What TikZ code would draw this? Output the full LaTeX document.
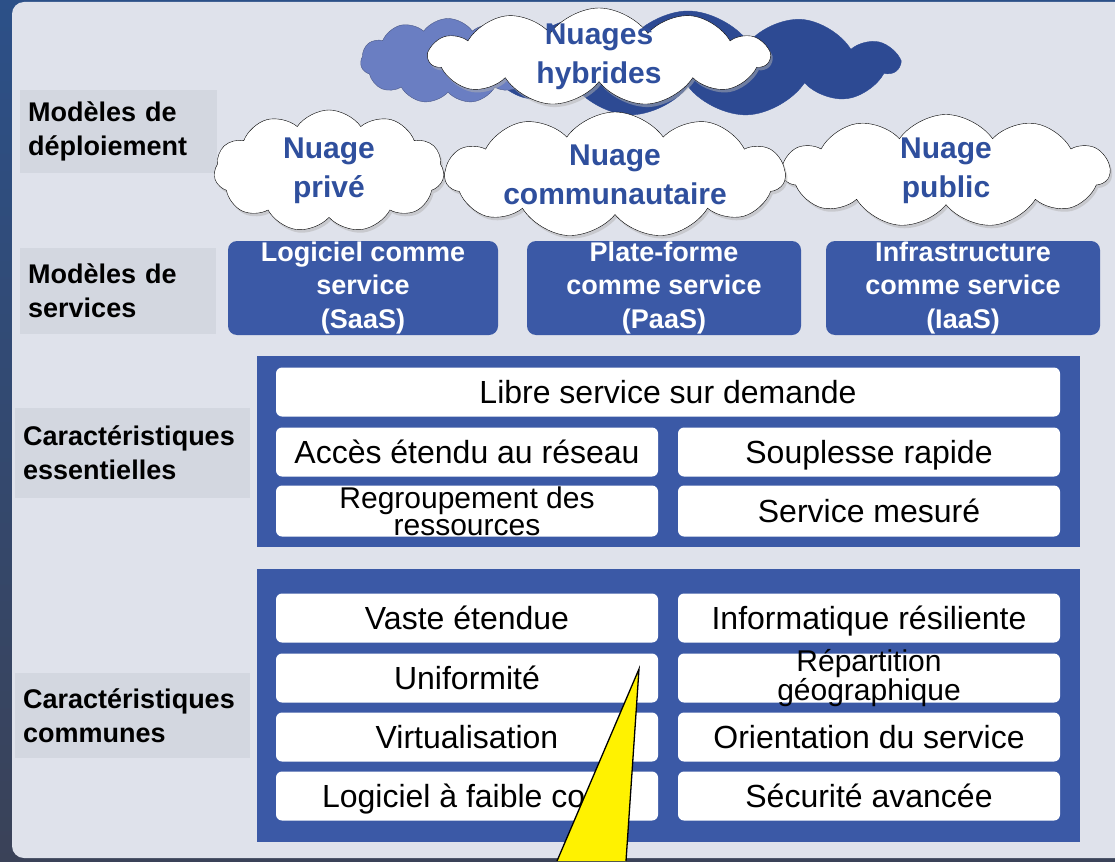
\documentclass[tikz,border=0pt]{standalone}
\usepackage{fontspec}
\setmainfont{Liberation Sans}
\usetikzlibrary{shapes.symbols,shadows}
\definecolor{cadrehaut}{RGB}{44,80,136}
\definecolor{cadrebas}{RGB}{58,66,88}
\definecolor{panneau}{RGB}{223,226,235}
\definecolor{etiqfond}{RGB}{211,215,224}
\definecolor{bleuibm}{RGB}{59,89,166}
\definecolor{nuagetexte}{RGB}{47,79,157}
\definecolor{nuagemoyen}{RGB}{106,126,194}
\definecolor{nuagefonce}{RGB}{45,74,147}

\tikzset{
  nuage/.style={cloud, cloud puffs=11, cloud puff arc=110, aspect=2.4, inner sep=0pt},
  nuageblanc/.style={nuage, draw=black, fill=white, drop shadow={shadow xshift=2pt, shadow yshift=-3pt, fill=gray!60, opacity=.5}},
  nuagetxt/.style={font=\bfseries\fontsize{30}{39}\selectfont, text=nuagetexte, align=center},
  service/.style={rounded corners=9pt, fill=bleuibm, text=white, align=center, minimum height=94pt, inner sep=0pt, font=\bfseries\fontsize{27}{33.5}\selectfont},
  caracdeux/.style={rounded corners=6pt, fill=white, align=center, minimum height=49pt, inner sep=0pt, inner ysep=-8pt, font=\fontsize{30}{27}\selectfont},
  carac/.style={caracdeux, text height=22pt, text depth=0pt, font=\fontsize{32}{26}\selectfont},
  etiquette/.style={fill=etiqfond, anchor=north west, align=left, inner xsep=8pt, inner ysep=0pt, font=\bfseries\fontsize{27}{34}\selectfont},
}

\begin{document}
\begin{tikzpicture}[x=1pt,y=-1pt]
\useasboundingbox (0,0) rectangle (1115,861);
% fond et cadre
\shade[top color=cadrehaut, bottom color=cadrebas] (0,0) rectangle (1115,861);
\fill[panneau, rounded corners=12pt] (12,2) rectangle (1140,858);

% etiquettes de gauche
\node[etiquette, minimum width=197pt, minimum height=83pt, text width=181pt] (deploiement) at (20,90) {Modèles de\\déploiement};
\node[etiquette, minimum width=196pt, minimum height=86pt, text width=180pt] (services) at (20,248) {Modèles de\\services};
\node[etiquette, minimum width=235pt, minimum height=90pt, text width=219pt] (essentielles) at (15,408) {Caractéristiques\\essentielles};
\node[etiquette, minimum width=235pt, minimum height=85pt, text width=219pt] (communes) at (15,673) {Caractéristiques\\communes};

% nuages
\node[nuage, fill=nuagefonce, draw=nuagefonce, minimum width=420pt, minimum height=106pt] (hybfonce) at (688,64) {};
\node[nuage, fill=nuagemoyen, draw=nuagemoyen!70!black, minimum width=175pt, minimum height=85pt] (hybmoyen) at (448,61) {};
\node[nuageblanc, minimum width=340pt, minimum height=98pt] (hybride) at (599,57) {};
\node[nuagetxt] (hybridetxt) at (hybride) {Nuages\\hybrides};

\node[nuageblanc, minimum width=230pt, minimum height=122pt] (prive) at (329,171) {};
\node[nuagetxt] (privetxt) at (prive) {Nuage\\privé};
\node[nuageblanc, minimum width=327pt, minimum height=113pt] (public) at (946,171) {};
\node[nuagetxt] (publictxt) at (public) {Nuage\\public};
\node[nuageblanc, minimum width=340pt, minimum height=126pt] (commun) at (615,175) {};
\node[nuagetxt] (communtxt) at (commun) {Nuage\\communautaire};

% modeles de services
\node[service, minimum width=270pt] (saas) at (363,288) {Logiciel comme\\service\\(SaaS)};
\node[service, minimum width=274pt] (paas) at (664,288) {Plate-forme\\comme service\\(PaaS)};
\node[service, minimum width=274pt] (iaas) at (963,288) {Infrastructure\\comme service\\(IaaS)};

% caracteristiques essentielles
\fill[bleuibm] (257,356) rectangle (1080,547);
\node[carac, minimum width=784pt] (libre) at (668,392) {Libre service sur demande};
\node[carac, minimum width=382pt] (acces) at (467,452) {Accès étendu au réseau};
\node[carac, minimum width=382pt] (souplesse) at (869,452) {Souplesse rapide};
\node[caracdeux, minimum width=382pt, minimum height=51pt] (regroupement) at (467,511) {Regroupement des\\ressources};
\node[carac, minimum width=382pt, minimum height=51pt] (mesure) at (869,511) {Service mesuré};

% caracteristiques communes
\fill[bleuibm] (257,569) rectangle (1080,842);
\foreach \i/\y/\g/\d/\s in {1/618/Vaste étendue/Informatique résiliente/carac,
    2/678/Uniformité/{Répartition\\géographique}/caracdeux,
    3/737/Virtualisation/Orientation du service/carac,
    4/796/Logiciel à faible coût/Sécurité avancée/carac} {
  \node[carac, minimum width=382pt] (comg\i) at (467,\y) {\g};
  \node[\s, minimum width=382pt] (comd\i) at (869,\y) {\d};
}

% bulle jaune
\coordinate (pointe) at (639,669);
\coordinate (basegauche) at (557,861);
\coordinate (basedroite) at (626,861);
\fill[yellow] (pointe) -- (basegauche) -- (basedroite) -- cycle;
\draw[line width=1.3pt] (basegauche) -- (pointe) -- (basedroite);
\end{tikzpicture}
\end{document}
